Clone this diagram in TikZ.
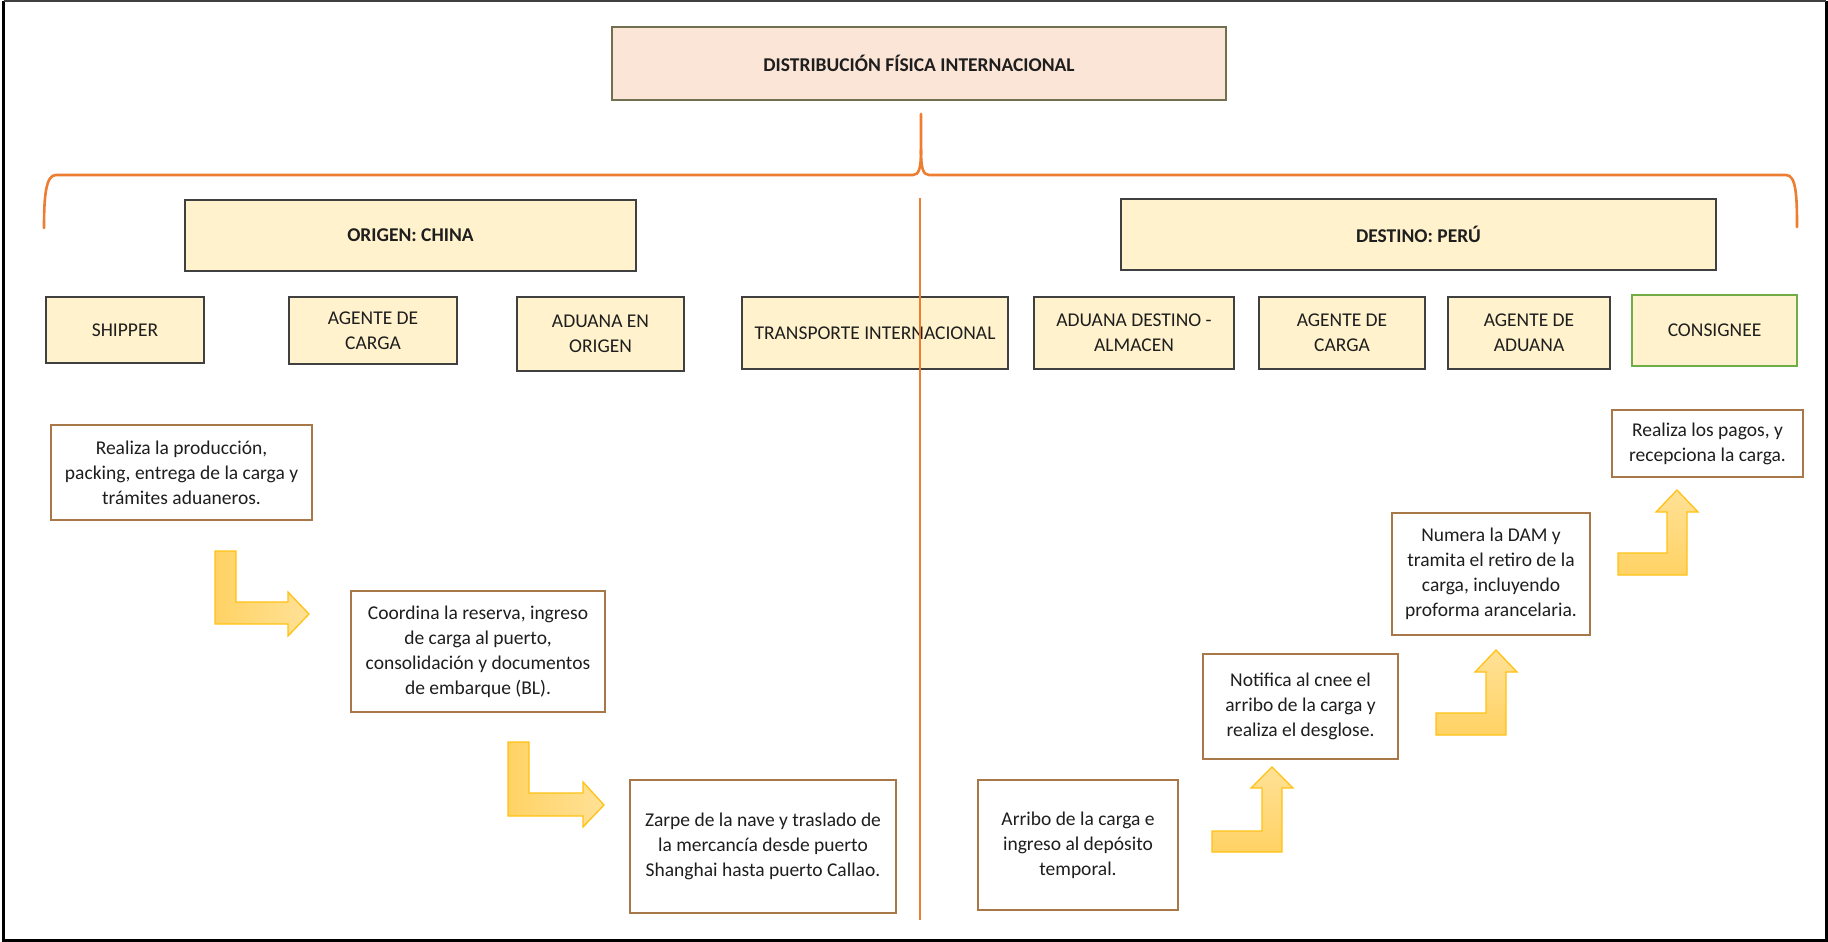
\documentclass[tikz,border=0pt]{standalone}
\usepackage{fontspec}
\setmainfont{Carlito}
\definecolor{hdrfill}{RGB}{255,242,204}
\definecolor{hdrline}{RGB}{64,64,64}
\definecolor{titlefill}{RGB}{251,229,214}
\definecolor{titleline}{RGB}{112,112,80}
\definecolor{descline}{RGB}{168,120,72}
\definecolor{greenline}{RGB}{112,173,71}
\definecolor{braceorange}{RGB}{237,125,49}
\definecolor{arrdark}{RGB}{255,210,100}
\definecolor{arrlight}{RGB}{255,225,150}
\definecolor{arrline}{RGB}{255,194,20}
\definecolor{textgray}{RGB}{30,30,30}
\tikzset{
  titlebox/.style={draw=titleline, fill=titlefill, line width=1.5pt, inner sep=0pt, align=center, text=textgray, font=\fontsize{19.5}{24}\selectfont\bfseries},
  grpbox/.style={draw=hdrline, fill=hdrfill, line width=1.5pt, inner sep=0pt, align=center, text=textgray, font=\fontsize{19.5}{25}\selectfont\bfseries},
  rolebox/.style={draw=hdrline, fill=hdrfill, line width=1.5pt, inner sep=0pt, align=center, text=textgray, font=\fontsize{19.5}{25}\selectfont},
  descbox/.style={draw=descline, fill=white, line width=1.5pt, inner sep=0pt, align=center, text=textgray, font=\fontsize{19.5}{25}\selectfont},
  orangeline/.style={draw=braceorange, line width=2.6pt, line cap=round},
  rightarrowshape/.style={draw=arrline, line width=1.3pt, left color=arrdark, right color=arrlight, line join=miter},
  uparrowshape/.style={draw=arrline, line width=1.3pt, bottom color=arrdark, top color=arrlight, line join=miter}
}
\begin{document}
\begin{tikzpicture}[x=1pt,y=-1pt]
\useasboundingbox (0,0) rectangle (1828,942);
% frame
\draw[black, line width=3pt] (3.5,1) -- (3.5,940) -- (1826,940) -- (1826,1);
\draw[black!75, line width=1.5pt] (3.5,1) -- (1826,1);

% title
\node[titlebox, minimum width=614pt, minimum height=73pt] (title) at (919,63.5) {DISTRIBUCIÓN FÍSICA INTERNACIONAL};

% brace
\coordinate (stemtop) at (921,114);
\coordinate (braceL) at (44,228);
\coordinate (braceR) at (1797,227);
\draw[orangeline] (braceL) .. controls (44,195) and (46,175) .. (56,175) -- (913,175) .. controls (919,175) and (921,168) .. (921,150) -- (stemtop);
\draw[orangeline] (921,150) .. controls (921,168) and (923,175) .. (929,175) -- (1786,175) .. controls (1796,175) and (1797,195) .. (braceR);

% divider
\coordinate (divtop) at (920,198);
\coordinate (divbot) at (920,920);
\draw[orangeline, line width=2.2pt, line cap=butt] (divtop) -- (divbot);

% group headers
\node[grpbox, minimum width=451pt, minimum height=71pt] (origen) at (410.5,235.5) {ORIGEN: CHINA};
\node[grpbox, minimum width=595pt, minimum height=71pt] (destino) at (1418.5,234.5) {DESTINO: PERÚ};

% role boxes
\node[rolebox, minimum width=158pt, minimum height=66pt] (shipper) at (125,330) {SHIPPER};
\node[rolebox, minimum width=168pt, minimum height=67pt] (agcarga1) at (373,330.5) {AGENTE DE\\CARGA};
\node[rolebox, minimum width=167pt, minimum height=74pt] (adorigen) at (600.5,334) {ADUANA EN\\ORIGEN};
\node[rolebox, minimum width=266pt, minimum height=72pt] (transp) at (875,333) {TRANSPORTE INTERNACIONAL};
\node[rolebox, minimum width=200pt, minimum height=72pt] (addestino) at (1134,333) {ADUANA DESTINO -\\ALMACEN};
\node[rolebox, minimum width=166pt, minimum height=72pt] (agcarga2) at (1342,333) {AGENTE DE\\CARGA};
\node[rolebox, minimum width=162pt, minimum height=72pt] (agaduana) at (1529,333) {AGENTE DE\\ADUANA};
\node[rolebox, draw=greenline, minimum width=165pt, minimum height=71pt] (consignee) at (1714.5,330.5) {CONSIGNEE};

% divider drawn again over the transport box
\draw[orangeline, line width=2.2pt, line cap=butt] (divtop) -- (transp.south -| divtop);

% description boxes
\node[descbox, minimum width=261pt, minimum height=95pt] (d1) at (181.5,472.5) {Realiza la producción,\\packing, entrega de la carga y\\trámites aduaneros.};
\node[descbox, minimum width=254pt, minimum height=121pt] (d2) at (478,651.5) {Coordina la reserva, ingreso\\de carga al puerto,\\consolidación y documentos\\de embarque (BL).};
\node[descbox, minimum width=266pt, minimum height=133pt] (d3) at (763,846.5) {Zarpe de la nave y traslado de\\la mercancía desde puerto\\Shanghai hasta puerto Callao.};
\node[descbox, minimum width=200pt, minimum height=130pt] (d4) at (1078,845) {Arribo de la carga e\\ingreso al depósito\\temporal.};
\node[descbox, minimum width=195pt, minimum height=105pt] (d5) at (1300.5,706.5) {Notifica al cnee el\\arribo de la carga y\\realiza el desglose.};
\node[descbox, minimum width=198pt, minimum height=122pt] (d6) at (1491,574) {Numera la DAM y\\tramita el retiro de la\\carga, incluyendo\\proforma arancelaria.};
\node[descbox, minimum width=191pt, minimum height=67pt] (d7) at (1707.5,443.5) {Realiza los pagos, y\\recepciona la carga.};

% bent block arrows
\path[rightarrowshape] (215,551) -- (236,551) -- (236,602) -- (288,602) -- (288,592) -- (309,614) -- (288,636) -- (288,624) -- (215,624) -- cycle;
\path[rightarrowshape] (508,742) -- (529,742) -- (529,793) -- (583,793) -- (583,782) -- (604,805) -- (583,827) -- (583,816) -- (508,816) -- cycle;
\path[uparrowshape] (1212,831) -- (1262,831) -- (1262,788) -- (1251,788) -- (1272,767) -- (1293,788) -- (1282,788) -- (1282,852) -- (1212,852) -- cycle;
\path[uparrowshape] (1436,713) -- (1486,713) -- (1486,672) -- (1475,672) -- (1496,650) -- (1517,672) -- (1506,672) -- (1506,735) -- (1436,735) -- cycle;
\path[uparrowshape] (1618,553) -- (1667,553) -- (1667,512) -- (1656,512) -- (1677,490) -- (1698,512) -- (1687,512) -- (1687,575) -- (1618,575) -- cycle;
\end{tikzpicture}
\end{document}
